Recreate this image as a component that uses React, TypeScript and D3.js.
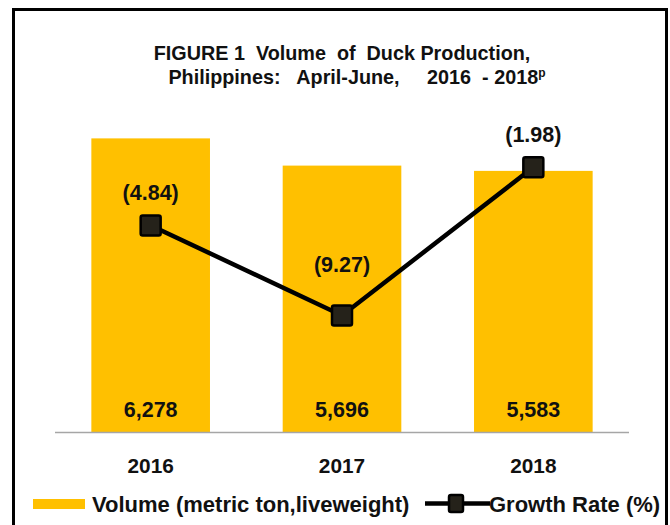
import React from "react";
import * as d3 from "d3";

const years = ["2016", "2017", "2018"];
const volume = [6278, 5696, 5583];
const growth = [-4.84, -9.27, -1.98];
const growthLabels = ["(4.84)", "(9.27)", "(1.98)"];

const W = 670;
const H = 525;
const FONT = "'Liberation Sans', Arial, sans-serif";
const YELLOW = "#FFC000";
const labelLift = [33, 51, 33];

export default function App() {
  const x = d3.scaleBand().domain(years).range([55, 629]).paddingInner(0.38).paddingOuter(0.19);
  const y = d3.scaleLinear().domain([0, 6500]).range([432, 128]);
  const y2 = d3.scaleLinear().domain([-15, 0]).range([432, 127]);
  const cx = (d: string) => (x(d) as number) + x.bandwidth() / 2;
  const line = d3
    .line<number>()
    .x((_, i) => cx(years[i]))
    .y((d) => y2(d));

  return (
    <svg width={W} height={H} style={{ position: "absolute", left: 0, top: 0, background: "#fff" }}>
      <rect x={0} y={0} width={W} height={H} fill="#fff" />
      <path d={`M13.5,${H + 5}V9.5H666.5V${H + 5}`} fill="none" stroke="#000" strokeWidth={3} />
      <text x={342} y={60} textAnchor="middle" fontFamily={FONT} fontWeight="bold" fontSize={19.8} fill="#111">
        FIGURE 1{"\u00a0 "}Volume{"\u00a0"} of{"\u00a0 "}Duck Production,
      </text>
      <text x={357} y={84} textAnchor="middle" fontFamily={FONT} fontWeight="bold" fontSize={19.8} fill="#111">
        Philippines:{"\u00a0\u00a0 "}April-June,{"\u00a0\u00a0\u00a0\u00a0 "}2016{"\u00a0 "}-{"\u00a0"}2018
        <tspan fontSize={12} dy={-7}>p</tspan>
      </text>
      {years.map((d, i) => (
        <rect key={d} x={x(d)} y={y(volume[i])} width={x.bandwidth()} height={y(0) - y(volume[i])} fill={YELLOW} />
      ))}
      <line x1={55} x2={629} y1={y(0) + 0.5} y2={y(0) + 0.5} stroke="#A6A6A6" strokeWidth={1.5} />
      {years.map((d, i) => (
        <text key={d} x={cx(d)} y={417} textAnchor="middle" fontFamily={FONT} fontWeight="bold" fontSize={21.5} fill="#111">
          {d3.format(",")(volume[i])}
        </text>
      ))}
      {years.map((d) => (
        <text key={d} x={cx(d)} y={473} textAnchor="middle" fontFamily={FONT} fontWeight="bold" fontSize={20.8} fill="#111">
          {d}
        </text>
      ))}
      <path d={line(growth) as string} fill="none" stroke="#000" strokeWidth={4.5} />
      {years.map((d, i) => (
        <rect key={d} x={cx(d) - 10} y={y2(growth[i]) - 10} width={20} height={20} rx={2} fill="#25221A" stroke="#000" strokeWidth={2.5} />
      ))}
      {years.map((d, i) => (
        <text key={d} x={cx(d)} y={y2(growth[i]) - labelLift[i] + 8} textAnchor="middle" fontFamily={FONT} fontWeight="bold" fontSize={21.5} fill="#111">
          {growthLabels[i]}
        </text>
      ))}
      <rect x={33} y={499} width={52} height={10} fill={YELLOW} />
      <text x={92} y={512} fontFamily={FONT} fontWeight="bold" fontSize={22} fill="#111">
        Volume (metric ton,liveweight)
      </text>
      <line x1={425} x2={490} y1={503.5} y2={503.5} stroke="#000" strokeWidth={4.5} />
      <rect x={449} y={495} width={14} height={17} rx={2} fill="#25221A" stroke="#000" strokeWidth={2.5} />
      <text x={489} y={512} fontFamily={FONT} fontWeight="bold" fontSize={22} fill="#111">
        Growth Rate (%)
      </text>
    </svg>
  );
}
